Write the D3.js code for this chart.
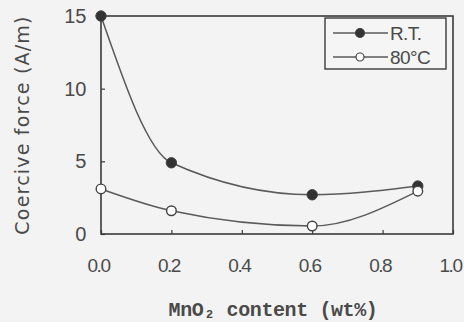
<!DOCTYPE html>
<html>
<head>
<meta charset="utf-8">
<script src="https://cdn.jsdelivr.net/npm/d3@7"></script>
<style>
  body { margin: 0; background: #f3f3f3; }
  svg { display: block; }
</style>
</head>
<body>
<div id="chart"></div>
<script>
// MnO2 content (wt%) vs coercive force (A/m)
const mno2RT = [0.0, 0.2, 0.6, 0.9];
const forceRT = [15.0, 4.9, 2.7, 3.3];
const mno2Hot = [0.0, 0.2, 0.6, 0.9];
const forceHot = [3.1, 1.6, 0.55, 2.95];
const xTicks = [0.0, 0.2, 0.4, 0.6, 0.8, 1.0];
const yTicks = [0, 5, 10, 15];
const seriesNames = ['R.T.', '80°C'];

const width = 464;
const height = 322;
const marginTop = 16;
const marginRight = 11;
const marginBottom = 88;
const marginLeft = 101;
const ink = '#3a3a3a';

const svg = d3.select('#chart')
  .append('svg')
  .attr('width', width)
  .attr('height', height);

svg.append('rect')
  .attr('width', width)
  .attr('height', height)
  .attr('fill', '#f3f3f3');

const x = d3.scaleLinear()
  .domain([0, 1])
  .range([marginLeft, width - marginRight]);

const y = d3.scaleLinear()
  .domain([0, 15])
  .range([height - marginBottom, marginTop]);

// plot frame
svg.append('rect')
  .attr('x', x(0))
  .attr('y', y(15))
  .attr('width', x(1) - x(0))
  .attr('height', y(0) - y(15))
  .attr('fill', 'none')
  .attr('stroke', ink)
  .attr('stroke-width', 1.6);

// x axis, inward ticks
svg.append('g')
  .attr('transform', `translate(0,${y(0)})`)
  .call(d3.axisBottom(x).tickValues(xTicks).tickSize(-4).tickPadding(25).tickFormat(d3.format('.1f')))
  .call(g => g.select('.domain').remove())
  .call(g => g.selectAll('.tick line').attr('stroke', ink).attr('stroke-width', 1.2))
  .call(g => g.selectAll('.tick text')
    .attr('dx', -3)
    .attr('fill', '#4a4a4a')
    .attr('font-family', 'Liberation Sans, Arial, sans-serif')
    .attr('font-size', 19)
    .attr('letter-spacing', -1.5));

// y axis, inward ticks
svg.append('g')
  .attr('transform', `translate(${x(0)},0)`)
  .call(d3.axisLeft(y).tickValues(yTicks).tickSize(-4).tickPadding(15))
  .call(g => g.select('.domain').remove())
  .call(g => g.selectAll('.tick line').attr('stroke', ink).attr('stroke-width', 1.2))
  .call(g => g.selectAll('.tick text')
    .attr('fill', '#4a4a4a')
    .attr('font-family', 'Liberation Sans, Arial, sans-serif')
    .attr('font-size', 20)
    .attr('letter-spacing', -0.3));

// axis titles
svg.append('text')
  .attr('x', 273)
  .attr('y', 316)
  .attr('text-anchor', 'middle')
  .attr('fill', '#4a4a4a')
  .attr('font-family', 'Liberation Mono, Courier New, monospace')
  .attr('font-weight', 'bold')
  .attr('font-size', 20)
  .attr('letter-spacing', -0.4)
  .text('MnO₂ content (wt%)');

svg.append('text')
  .attr('transform', `translate(29,${(y(0) + y(15)) / 2}) rotate(-90)`)
  .attr('text-anchor', 'middle')
  .attr('fill', '#4a4a4a')
  .attr('font-family', 'DejaVu Sans, Verdana, sans-serif')
  .attr('font-size', 19)
  .attr('letter-spacing', 1.2)
  .text('Coercive force (A/m)');

// curves
const line = d3.line()
  .x(d => x(d[0]))
  .y(d => y(d[1]))
  .curve(d3.curveMonotoneX);

const rtPts = mno2RT.map((v, i) => [v, forceRT[i]]);
const hotPts = mno2Hot.map((v, i) => [v, forceHot[i]]);

[rtPts, hotPts].forEach(pts => {
  svg.append('path')
    .datum(pts)
    .attr('fill', 'none')
    .attr('stroke', '#5a5a5a')
    .attr('stroke-width', 1.5)
    .attr('d', line);
});

svg.selectAll('.rt')
  .data(rtPts)
  .enter().append('circle')
  .attr('cx', d => x(d[0]))
  .attr('cy', d => y(d[1]))
  .attr('r', 5.2)
  .attr('fill', '#333')
  .attr('stroke', '#444');

svg.selectAll('.hot')
  .data(hotPts)
  .enter().append('circle')
  .attr('cx', d => x(d[0]))
  .attr('cy', d => y(d[1]))
  .attr('r', 4.8)
  .attr('fill', '#fff')
  .attr('stroke', '#444')
  .attr('stroke-width', 1.4);

// legend
const lg = svg.append('g');
lg.append('rect')
  .attr('x', 325)
  .attr('y', 18)
  .attr('width', 121)
  .attr('height', 51)
  .attr('fill', '#f5f5f5')
  .attr('stroke', ink)
  .attr('stroke-width', 1.4);

seriesNames.forEach((name, i) => {
  const ly = 33 + i * 24;
  lg.append('line')
    .attr('x1', 333).attr('x2', 388)
    .attr('y1', ly).attr('y2', ly)
    .attr('stroke', '#5a5a5a')
    .attr('stroke-width', 1.5);
  lg.append('circle')
    .attr('cx', 360).attr('cy', ly)
    .attr('r', i === 0 ? 4.5 : 4)
    .attr('fill', i === 0 ? '#333' : '#fff')
    .attr('stroke', '#444')
    .attr('stroke-width', 1.2);
  lg.append('text')
    .attr('x', 390).attr('y', ly + 7)
    .attr('fill', '#4a4a4a')
    .attr('font-family', 'Liberation Sans, Arial, sans-serif')
    .attr('font-size', 19)
    .attr('letter-spacing', -0.6)
    .text(name);
});
</script>
</body>
</html>
